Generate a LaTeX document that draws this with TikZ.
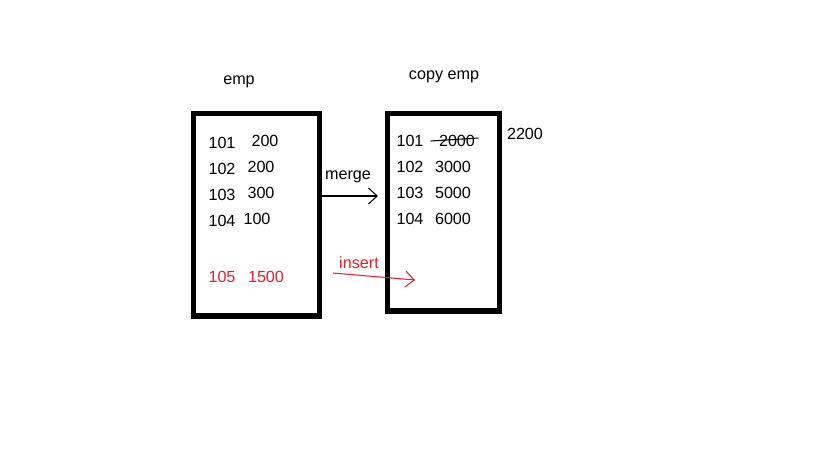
\documentclass[tikz,border=0pt]{standalone}
\usepackage{fontspec}
\setmainfont{Liberation Sans}
\usepackage{xcolor}
\usetikzlibrary{positioning,calc,arrows.meta}
\definecolor{paintred}{RGB}{237,28,36}

\begin{document}
\begin{tikzpicture}[
    x=0.02cm, y=-0.02cm,
    tbl/.style={rectangle, draw, line width=3pt, inner sep=0pt},
    val/.style={inner sep=0pt, font=\fontsize{9.2}{11}\selectfont},
    flow/.style={-{Straight Barb[length=5pt,width=9pt]}, line width=0.6pt}
]
    \useasboundingbox (0,0) rectangle (819,460);

    \node[tbl, minimum width=2.52cm, minimum height=4.05cm] (emp) at (256.5,214.75) {};
    \node[tbl, minimum width=2.24cm, minimum height=3.95cm] (copyemp) at (443.5,212.25) {};

    \node[val] (empname) at (239,82) {emp};
    \node[val] (copyname) at (444,77) {copy emp};

    % source table rows
    \node[val] (l101) at (222,143) {101};
    \node[val] (l200a) at (265,141) {200};
    \node[val] (l102) at (222,169) {102};
    \node[val] (l200b) at (261,167) {200};
    \node[val] (l103) at (222,195) {103};
    \node[val] (l300) at (261,193) {300};
    \node[val] (l104) at (222,221) {104};
    \node[val] (l100) at (257,219) {100};
    \node[val, text=paintred] (l105) at (222,277) {105};
    \node[val, text=paintred] (l1500) at (266,277) {1500};

    % target table rows
    \node[val] (r101) at (410,141) {101};
    \node[val] (r2000) at (457,141) {2000};
    \node[val] (r102) at (410,167) {102};
    \node[val] (r3000) at (453,167) {3000};
    \node[val] (r103) at (410,193) {103};
    \node[val] (r5000) at (453,193) {5000};
    \node[val] (r104) at (410,219) {104};
    \node[val] (r6000) at (453,219) {6000};
    \node[val] (r2200) at (525,134) {2200};

    \draw[line width=0.6pt] ($(r2000.west)+(-8,0)$) -- ($(r2000.east)+(3,-3)$);

    \node[val] (mergelbl) at (348,177) {merge};
    \node[val, text=paintred] (insertlbl) at (359,263) {insert};

    \coordinate (mergeend) at (378,196);
    \coordinate (insstart) at (333,273);
    \coordinate (insend) at (415,280);

    \draw[flow] (emp.east |- mergeend) -- (mergeend);
    \draw[flow, paintred] (insstart) -- (insend);
\end{tikzpicture}
\end{document}
